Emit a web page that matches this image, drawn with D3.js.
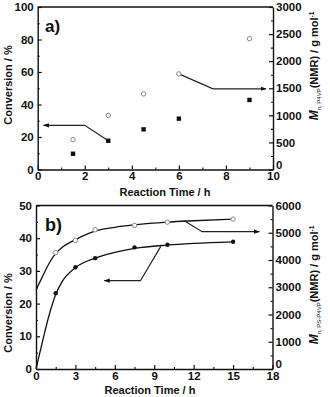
<!DOCTYPE html>
<html><head><meta charset="utf-8">
<script src="https://cdn.jsdelivr.net/npm/d3@7"></script>
<style>
body{margin:0;background:#fff;}
text{font-family:"Liberation Sans",Arial,sans-serif;font-weight:bold;fill:#111;}
</style></head>
<body><svg id="c" width="330" height="397"></svg>
<script>
// Panel a data
const timeA = [1.5, 3, 4.5, 6, 9];
const convA = [9.7, 17.7, 24.7, 31.3, 42.8];
const mnA = [550, 1000, 1395, 1765, 2415];
const arrowConvA = [[3, 17.7], [2, 27.2], [0.25, 27.2]];
const arrowMnA = [[6, 1765], [7.45, 1490], [9.7, 1490]];
const xTicksA = [0, 2, 4, 6, 8, 10];
const yLTicksA = [0, 20, 40, 60, 80, 100];
const yRTicksA = [0, 500, 1000, 1500, 2000, 2500, 3000];

// Panel b data
const timeB = [1.5, 3, 4.5, 7.5, 10, 15];
const convB = [23.2, 31.1, 33.9, 37.2, 38.0, 38.9];
const mnB = [4270, 4720, 5110, 5270, 5390, 5500];
const fitTimeB = [0, 0.5, 1, 1.5, 2, 3, 4.5, 6, 7.5, 10, 12, 15];
const fitConvB = [0, 8.5, 16.5, 22.8, 26.8, 31, 33.9, 35.7, 36.9, 37.9, 38.4, 38.9];
const fitMnB = [2900, 3400, 3880, 4240, 4470, 4750, 5060, 5200, 5290, 5390, 5440, 5500];
const arrowConvB = [[9.5, 37.5], [7.95, 27], [5.2, 27]];
const arrowMnB = [[11.25, 5450], [12.65, 5040], [17, 5040]];
const xTicksB = [0, 3, 6, 9, 12, 15, 18];
const yLTicksB = [0, 10, 20, 30, 40, 50];
const yRTicksB = [0, 1000, 2000, 3000, 4000, 5000, 6000];

const svg = d3.select("#c");
svg.append("defs").append("marker").attr("id","ah").attr("viewBox","0 0 10 10")
  .attr("refX",9).attr("refY",5).attr("markerWidth",6).attr("markerHeight",6)
  .attr("markerUnits","userSpaceOnUse").attr("orient","auto")
  .append("path").attr("d","M0,1.5L10,5L0,8.5Z").attr("fill","#111");

function panel(cfg){
  const g = svg.append("g");
  const x = d3.scaleLinear().domain(cfg.xDom).range([cfg.left, cfg.right]);
  const yL = d3.scaleLinear().domain(cfg.yLDom).range([cfg.bottom, cfg.top]);
  const yR = d3.scaleLinear().domain(cfg.yRDom).range([cfg.bottom, cfg.top]);
  const mid = t => t.slice(0,-1).map((v,i)=>(v+t[i+1])/2);
  function ax(axis, tr, ticks, minor, lbl){
    const a = g.append("g").attr("transform", tr).call(axis.tickValues(ticks).tickFormat(d3.format("d")).tickSizeInner(-4).tickSizeOuter(0).tickPadding(lbl.pad));
    a.selectAll("text").style("font-size", lbl.fs).attr("font-family","Liberation Sans").attr("fill","#111");
    a.selectAll("line").attr("stroke","#111").attr("stroke-width",1.2);
    a.select(".domain").attr("stroke","#111").attr("stroke-width",1.4);
    const m = g.append("g").attr("transform", tr).call(axis.tickValues(minor).tickSizeInner(-2).tickSizeOuter(0).tickFormat(""));
    m.select(".domain").remove();
    m.selectAll("line").attr("stroke","#111").attr("stroke-width",1.1);
    return a;
  }
  ax(d3.axisBottom(x), `translate(0,${cfg.bottom})`, cfg.xTicks, mid(cfg.xTicks), {pad:2.5, fs:"11.5px"});
  ax(d3.axisLeft(yL), `translate(${cfg.left},0)`, cfg.yLTicks, mid(cfg.yLTicks), {pad:4, fs:"11.5px"});
  const r = ax(d3.axisRight(yR), `translate(${cfg.right},0)`, cfg.yRTicks, mid(cfg.yRTicks), {pad:3, fs:"11.5px"});
  // reference lifts the right-axis zero label above the corner
  r.selectAll("text").filter(d => d === 0).attr("y", -5);
  g.append("line").attr("x1",cfg.left).attr("x2",cfg.right).attr("y1",cfg.top).attr("y2",cfg.top)
    .attr("stroke","#111").attr("stroke-width",1.4);
  return {g,x,yL,yR};
}

// ---------- Panel a ----------
const A = panel({xDom:[0,10], yLDom:[0,100], yRDom:[0,3000], left:37.7, right:273, top:7, bottom:169.5,
  xTicks:xTicksA, yLTicks:yLTicksA, yRTicks:yRTicksA});
const lineA = d3.line();
A.g.append("path").attr("d", lineA(arrowConvA.map(d=>[A.x(d[0]),A.yL(d[1])])))
  .attr("fill","none").attr("stroke","#222").attr("stroke-width",1.2).attr("marker-end","url(#ah)");
A.g.append("path").attr("d", lineA(arrowMnA.map(d=>[A.x(d[0]),A.yR(d[1])])))
  .attr("fill","none").attr("stroke","#222").attr("stroke-width",1.2).attr("marker-end","url(#ah)");
A.g.selectAll(".sqA").data(timeA).enter().append("rect")
  .attr("x",(d)=>A.x(d)-2.2).attr("y",(d,i)=>A.yL(convA[i])-2.2).attr("width",4.4).attr("height",4.4).attr("fill","#111");
A.g.selectAll(".ocA").data(timeA).enter().append("circle")
  .attr("cx",d=>A.x(d)).attr("cy",(d,i)=>A.yR(mnA[i])).attr("r",2.2)
  .attr("fill","#fff").attr("stroke","#888").attr("stroke-width",1);
svg.append("text").attr("x",45).attr("y",32).style("font-size","17px").text("a)");

// ---------- Panel b ----------
const B = panel({xDom:[0,18], yLDom:[0,50], yRDom:[0,6000], left:36, right:272.5, top:205.5, bottom:369,
  xTicks:xTicksB, yLTicks:yLTicksB, yRTicks:yRTicksB});
const curve = d3.line().curve(d3.curveMonotoneX);
B.g.append("path").attr("d", curve(fitTimeB.map((t,i)=>[B.x(t),B.yL(fitConvB[i])])))
  .attr("fill","none").attr("stroke","#111").attr("stroke-width",1.3);
B.g.append("path").attr("d", curve(fitTimeB.map((t,i)=>[B.x(t),B.yR(fitMnB[i])])))
  .attr("fill","none").attr("stroke","#111").attr("stroke-width",1.3);
B.g.append("path").attr("d", lineA(arrowConvB.map(d=>[B.x(d[0]),B.yL(d[1])])))
  .attr("fill","none").attr("stroke","#222").attr("stroke-width",1.2).attr("marker-end","url(#ah)");
B.g.append("path").attr("d", lineA(arrowMnB.map(d=>[B.x(d[0]),B.yR(d[1])])))
  .attr("fill","none").attr("stroke","#222").attr("stroke-width",1.2).attr("marker-end","url(#ah)");
B.g.selectAll(".fcB").data(timeB).enter().append("circle")
  .attr("cx",d=>B.x(d)).attr("cy",(d,i)=>B.yL(convB[i])).attr("r",2.2).attr("fill","#111");
B.g.selectAll(".ocB").data(timeB).enter().append("circle")
  .attr("cx",d=>B.x(d)).attr("cy",(d,i)=>B.yR(mnB[i])).attr("r",2.2)
  .attr("fill","#fff").attr("stroke","#888").attr("stroke-width",1);
svg.append("text").attr("x",45).attr("y",231).style("font-size","18px").text("b)");

// ---------- Axis titles ----------
function xTitle(cx, y){ svg.append("text").attr("x",cx).attr("y",y).attr("text-anchor","middle").style("font-size","11px").text("Reaction Time / h"); }
xTitle(165, 196);
xTitle(150, 394);
function yTitle(cx, cy){ svg.append("text").attr("transform",`translate(${cx},${cy}) rotate(-90)`).attr("text-anchor","middle").style("font-size","11px").text("Conversion / %"); }
yTitle(12, 85);
yTitle(12, 313);
function rTitle(cx, cy, sub){
  const t = svg.append("text").attr("transform",`translate(${cx},${cy}) rotate(-90)`).attr("text-anchor","middle").style("font-size","11px");
  t.append("tspan").style("font-style","italic").style("font-size","12px").text("M");
  t.append("tspan").style("font-size","6px").style("font-weight","normal").attr("dy",3).text(sub);
  t.append("tspan").attr("dy",-3).text("(NMR) / g mol");
  t.append("tspan").style("font-size","6.5px").attr("dy",-4).text("-1");
}
rTitle(318, 66, "n, P4VP");
rTitle(318, 285, "n, PS-P4VP");
</script></body></html>
